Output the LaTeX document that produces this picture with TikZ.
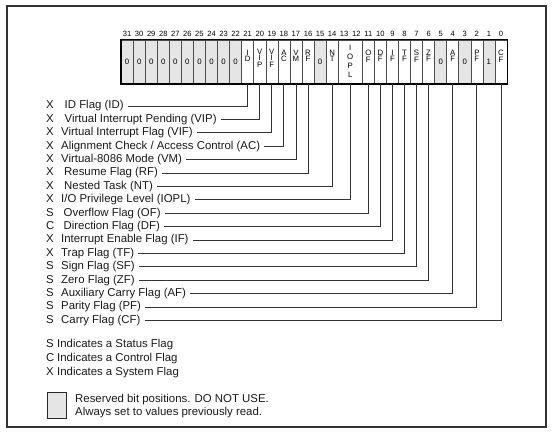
\documentclass[tikz,border=0pt]{standalone}
\usepackage{fontspec}
\setmainfont{Liberation Sans}
\usetikzlibrary{positioning}
\begin{document}
\begin{tikzpicture}[x=1pt,y=-1pt,font=\fontsize{11.4}{13.4}\selectfont,
  fld/.style={draw=black!70,line width=0.6pt,minimum height=44pt,inner sep=0pt},
  res/.style={fld,fill=black!10},
  celltxt/.style={font=\fontsize{7.8}{6.6}\selectfont,align=center,inner sep=0pt},
  bitno/.style={font=\fontsize{7.6}{8}\selectfont,inner sep=0pt},
  flag/.style={anchor=west,inner sep=0pt,text=black!90},
  conn/.style={draw=black!80,line width=0.8pt,shorten <=4pt}]
  \useasboundingbox (0,0) rectangle (554,435);
  \draw[black!80,line width=1.3pt] (7,6) rectangle (546,427);
  \foreach \hi/\lo/\nm/\txt/\dy/\st in {31/31/r31/0/0/res,30/30/r30/0/0/res,29/29/r29/0/0/res,
      28/28/r28/0/0/res,27/27/r27/0/0/res,26/26/r26/0/0/res,25/25/r25/0/0/res,24/24/r24/0/0/res,
      23/23/r23/0/0/res,22/22/r22/0/0/res,21/21/ID/{I\\D}/6/fld,20/20/VIP/{V\\I\\P}/4/fld,
      19/19/VIF/{V\\I\\F}/4/fld,18/18/AC/{A\\C}/6/fld,17/17/VM/{V\\M}/6/fld,16/16/RF/{R\\F}/6/fld,
      15/15/r15/0/0/res,14/14/NT/{N\\T}/6/fld,13/12/IOPL/{I\\[2.4pt]O\\[2.4pt]P\\[2.4pt]L}/1/fld,
      11/11/OF/{O\\F}/6/fld,10/10/DF/{D\\F}/6/fld,9/9/IF/{I\\F}/6/fld,8/8/TF/{T\\F}/6/fld,
      7/7/SF/{S\\F}/6/fld,6/6/ZF/{Z\\F}/6/fld,5/5/r5/0/0/res,4/4/AF/{A\\F}/6/fld,
      3/3/r3/0/0/res,2/2/PF/{P\\F}/6/fld,1/1/r1/1/0/res,0/0/CF/{C\\F}/6/fld}{
    \node[style=\st,minimum width={(\hi-\lo+1)*12.06pt}] (\nm) at ({507-((\hi+\lo)/2+0.5)*12.06},62) {};
    \node[celltxt] (t\nm) at ([yshift=\dy pt]\nm.center) {\txt};
  }
  \draw[black,line width=1.6pt] (r31.north west) rectangle (CF.south east);
  \foreach \i in {0,...,31}
    \node[bitno] (n\i) at ({507-(\i+0.5)*12.06},33.5) {\i};
  \foreach \nm/\lt/\txt/\ind [count=\k from 0] in {ID/X/ID Flag (ID)/18.5,
      VIP/X/Virtual Interrupt Pending (VIP)/18.5,VIF/X/Virtual Interrupt Flag (VIF)/15,
      AC/X/{Alignment Check / Access Control (AC)}/15,VM/X/Virtual-8086 Mode (VM)/15,
      RF/X/Resume Flag (RF)/18,NT/X/Nested Task (NT)/18,IOPL/X/{I/O Privilege Level (IOPL)}/15,
      OF/S/Overflow Flag (OF)/17.5,DF/C/Direction Flag (DF)/17.5,IF/X/Interrupt Enable Flag (IF)/15,
      TF/X/Trap Flag (TF)/15,SF/S/Sign Flag (SF)/15,ZF/S/Zero Flag (ZF)/15,
      AF/S/Auxiliary Carry Flag (AF)/15,PF/S/Parity Flag (PF)/15,CF/S/Carry Flag (CF)/15}{
    \node[flag] (f\nm) at (46,{106+13.4*\k}) {\makebox[\ind pt][l]{\lt}\txt};
    \draw[conn] (f\nm.east) -| (\nm.south);
  }
  \node[flag] (keyS) at (46,345) {\makebox[11pt][l]{S}Indicates a Status Flag};
  \node[flag] (keyC) at (46,358.6) {\makebox[11pt][l]{C}Indicates a Control Flag};
  \node[flag] (keyX) at (46,372.2) {\makebox[11pt][l]{X}Indicates a System Flag};
  \node[res,minimum height=26pt,minimum width=19.4pt,line width=1.4pt,draw=black!85] (key) at (57,405.3) {};
  \node[flag] (keyR) at (75,399.5) {Reserved bit positions. DO NOT USE.};
  \node[flag] (keyA) at (75,412.8) {Always set to values previously read.};
\end{tikzpicture}
\end{document}
